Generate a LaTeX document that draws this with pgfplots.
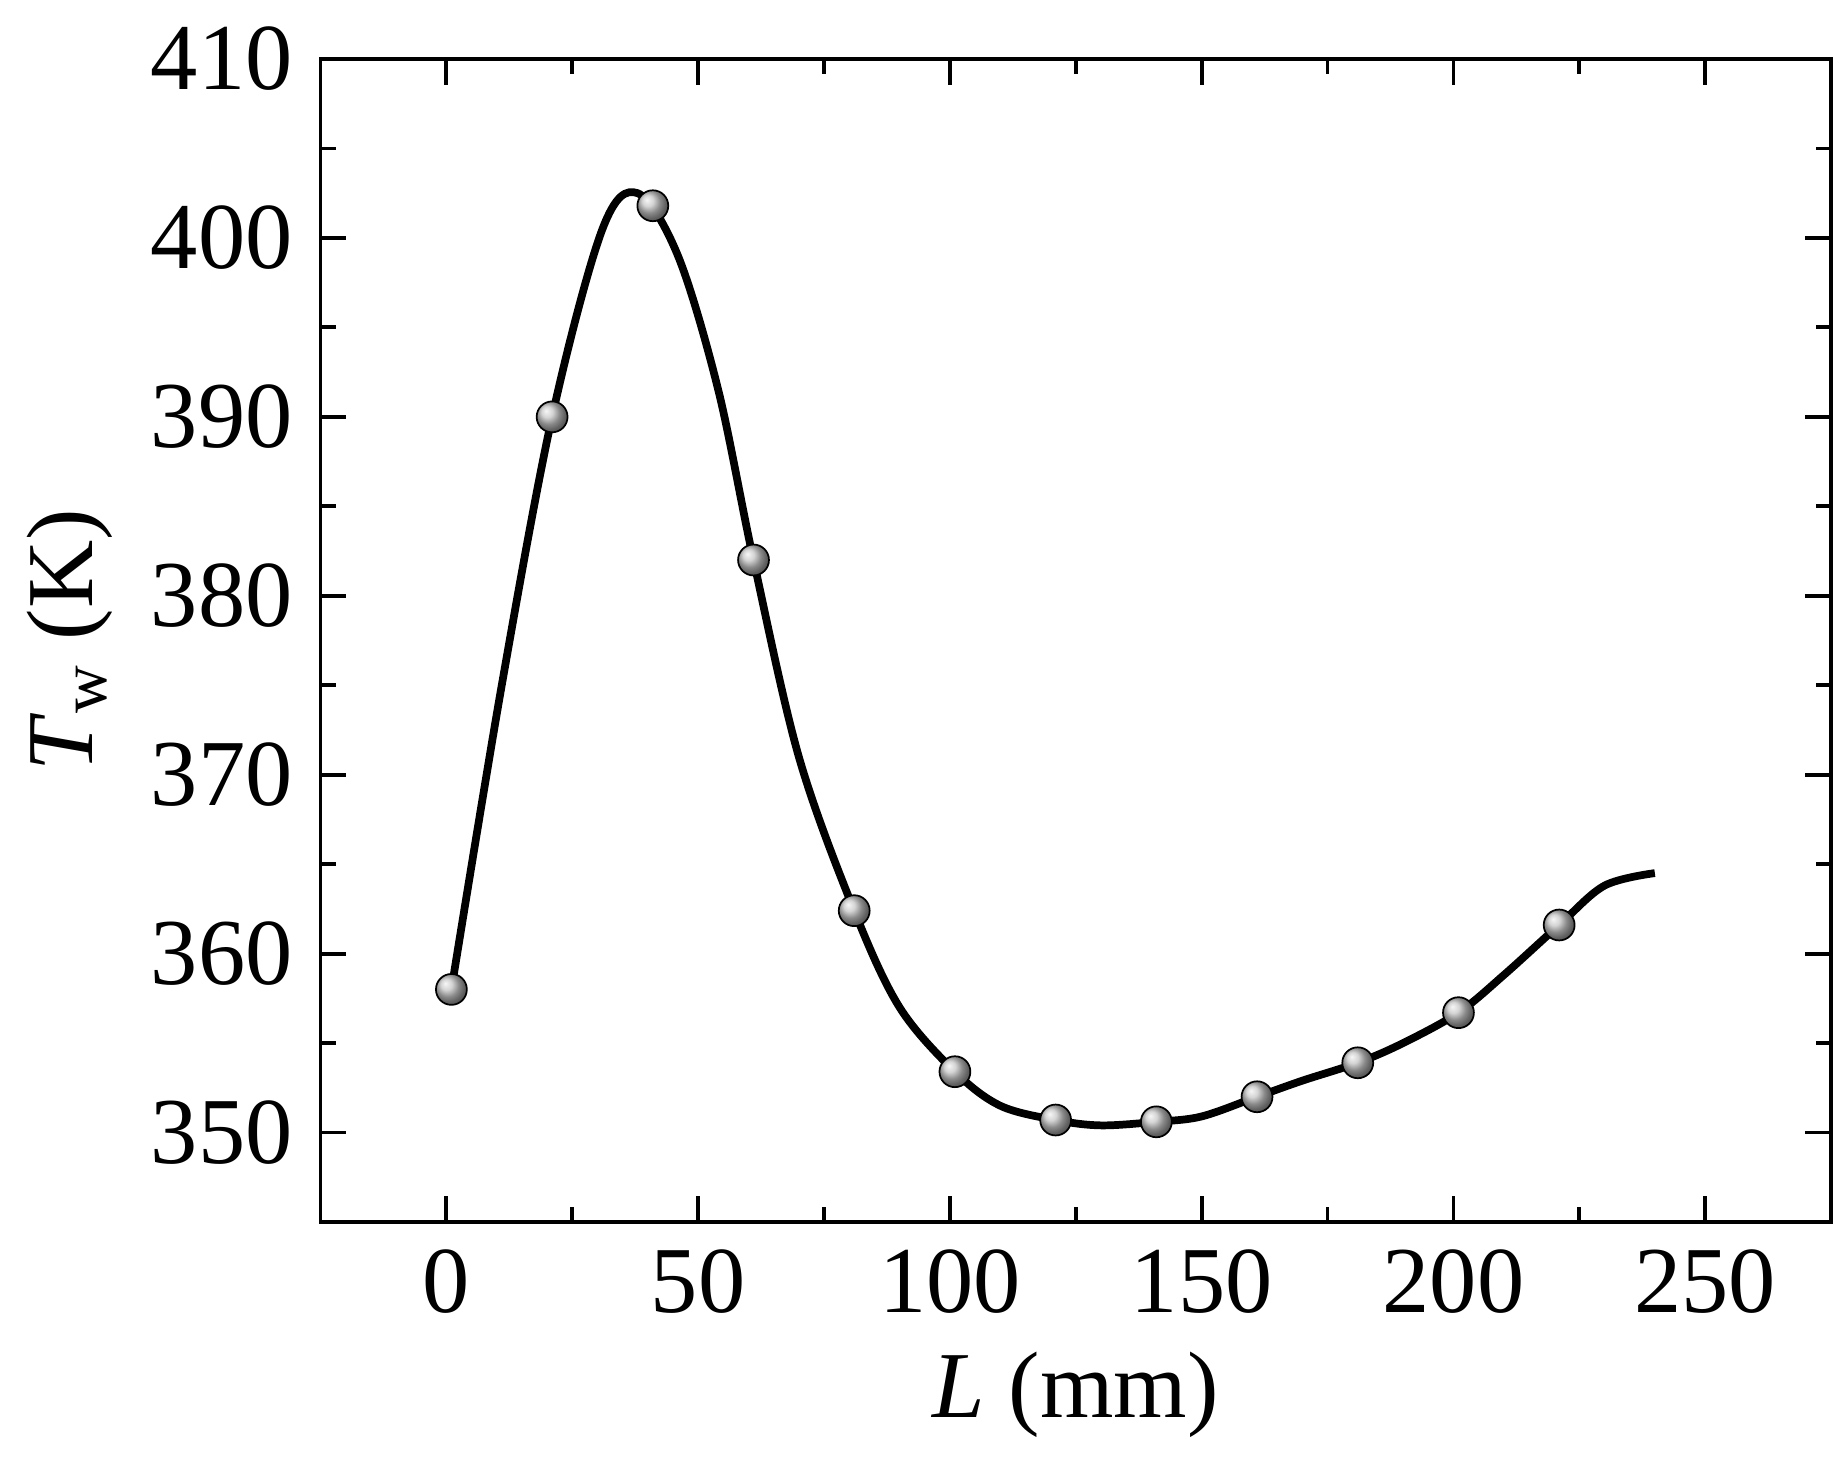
\documentclass[border=0pt]{standalone}
\usepackage{fontspec}
\setmainfont{Liberation Serif}
\usepackage{pgfplots}
\pgfplotsset{compat=1.18}
\begin{document}
\fontsize{19}{23}\selectfont
\begin{tikzpicture}
\begin{axis}[
  scale only axis, width=352pt, height=271pt,
  xmin=-25, xmax=275, ymin=345, ymax=410,
  xtick={0,50,...,250}, ytick={350,360,...,410},
  minor x tick num=1, minor y tick num=1,
  tick align=inside, tick pos=both,
  major tick length=6pt, minor tick length=3.5pt,
  every tick/.style={line width=0.9pt,black},
  axis line style={line width=0.9pt},
  /pgf/number format/assume math mode=true,
  ticklabel style={font=\fontsize{22}{26}\selectfont},
  xlabel={\textit{L} (mm)}, ylabel={\textit{T}\textsubscript{w} (K)},
  label style={font=\fontsize{22}{26}\selectfont},
  xlabel style={yshift=4pt}, ylabel style={yshift=-4pt},
]
\addplot[black, line width=1.8pt, smooth, tension=0.55] coordinates {
(1,358) (11,375) (21,390) (31,400.5) (38,402.5) (46,399) (54,391.5) (61,382)
(70,371) (81,362.4) (90,357) (101,353.4) (110,351.5) (121,350.7) (130,350.4)
(141,350.6) (150,350.9) (161,352) (170,352.9) (181,353.9) (190,355) (201,356.7)
(210,358.8) (221,361.6) (230,363.8) (240,364.5)};
\addplot[only marks, mark=ball, mark size=3.6pt, mark options={ball color=gray!45}] coordinates {
(1,358) (21,390) (41,401.8) (61,382) (81,362.4) (101,353.4) (121,350.7)
(141,350.6) (161,352) (181,353.9) (201,356.7) (221,361.6)};
\end{axis}
\end{tikzpicture}
\end{document}
